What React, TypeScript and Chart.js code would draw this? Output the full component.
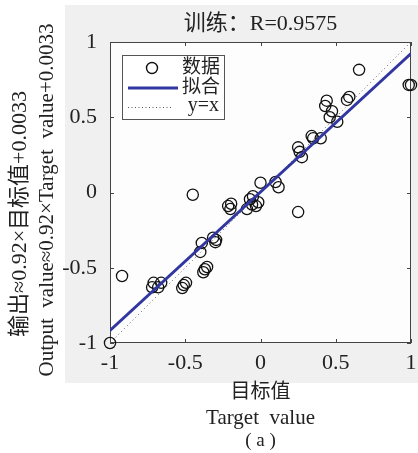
import React, { useEffect, useRef } from "react";
import { Chart, registerables } from "chart.js";
Chart.register(...registerables);

const targetValues = [
  -1, -0.92, -0.72, -0.71, -0.68, -0.66, -0.52, -0.51, -0.495, -0.45,
  -0.4, -0.39, -0.38, -0.37, -0.355, -0.315, -0.3, -0.295, -0.215, -0.2,
  -0.195, -0.09, -0.07, -0.056, -0.05, -0.03, -0.015, 0.0, 0.1, 0.12,
  0.25, 0.25, 0.26, 0.275, 0.34, 0.35, 0.4, 0.44, 0.43, 0.475,
  0.46, 0.51, 0.575, 0.59, 0.655, 0.985, 1.0,
];
const outputValues = [
  -1, -0.555, -0.63, -0.6, -0.63, -0.6, -0.635, -0.615, -0.6, -0.015,
  -0.395, -0.335, -0.53, -0.51, -0.495, -0.3, -0.33, -0.315, -0.09, -0.11,
  -0.075, -0.11, -0.045, -0.08, -0.025, -0.09, -0.065, 0.065, 0.07, 0.035,
  -0.13, 0.3, 0.27, 0.235, 0.375, 0.36, 0.36, 0.61, 0.575, 0.54,
  0.5, 0.47, 0.615, 0.635, 0.815, 0.715, 0.715,
];
const fitX = [-1, 1];
const fitY = [-0.9167, 0.9233];
const identityX = [-1, 1];
const identityY = [-1, 1];
const tickValues = [-1, -0.5, 0, 0.5, 1];
const tickLabels = ["-1", "-0.5", "0", "0.5", "1"];
const legendLabels = ["数据", "拟合", "y=x"];
const titleText = "训练：R=0.9575";
const yTitle1 = "输出≈0.92×目标值+0.0033";
const yTitle2 = "Output  value≈0.92×Target  value+0.0033";
const xTitle1 = "目标值";
const xTitle2 = "Target  value";
const captionText = "( a )";

const FONT = '"Liberation Serif", "Noto Sans CJK SC", serif';
const FIT_COLOR = "#3136a0";

const labelFor = (v: number) => {
  const i = tickValues.findIndex((t) => Math.abs(t - v) < 1e-9);
  return i >= 0 ? tickLabels[i] : "";
};

const decorPlugin = {
  id: "decor",
  beforeDraw(chart: any) {
    const { ctx, chartArea } = chart;
    ctx.save();
    ctx.fillStyle = "#ffffff";
    ctx.fillRect(0, 0, chart.width, chart.height);
    ctx.fillStyle = "#f0f0f0";
    ctx.fillRect(65, 5, chart.width - 65, 378);
    ctx.fillStyle = "#fdfdfd";
    ctx.fillRect(chartArea.left, chartArea.top, chartArea.right - chartArea.left, chartArea.bottom - chartArea.top);
    ctx.restore();
  },
  beforeDatasetsDraw(chart: any) {
    const { ctx, chartArea } = chart;
    const xs = chart.scales.x;
    const ys = chart.scales.y;
    ctx.save();
    ctx.strokeStyle = "#444444";
    ctx.lineWidth = 1;
    ctx.strokeRect(chartArea.left + 0.5, chartArea.top + 0.5, chartArea.right - chartArea.left - 1, chartArea.bottom - chartArea.top - 1);
    const tl = 4;
    ctx.beginPath();
    tickValues.forEach((v) => {
      const px = Math.round(xs.getPixelForValue(v)) + 0.5;
      ctx.moveTo(px, chartArea.bottom);
      ctx.lineTo(px, chartArea.bottom - tl);
      ctx.moveTo(px, chartArea.top);
      ctx.lineTo(px, chartArea.top + tl);
      const py = Math.round(ys.getPixelForValue(v)) + 0.5;
      ctx.moveTo(chartArea.left, py);
      ctx.lineTo(chartArea.left + tl, py);
      ctx.moveTo(chartArea.right, py);
      ctx.lineTo(chartArea.right - tl, py);
    });
    ctx.stroke();
    ctx.restore();
  },
  afterDraw(chart: any) {
    const { ctx, chartArea } = chart;
    ctx.save();
    ctx.fillStyle = "#222222";
    ctx.textAlign = "center";
    ctx.textBaseline = "middle";
    const cx = (chartArea.left + chartArea.right) / 2;
    ctx.font = `22px ${FONT}`;
    ctx.fillText(titleText, cx, 24);
    ctx.font = `20px ${FONT}`;
    ctx.fillText(xTitle1, cx, 393);
    ctx.font = `21px ${FONT}`;
    ctx.fillText(xTitle2, cx, 418);
    ctx.font = `19px ${FONT}`;
    ctx.fillText(captionText, cx, 441);

    ctx.save();
    ctx.translate(20, 214);
    ctx.rotate(-Math.PI / 2);
    ctx.font = `22px ${FONT}`;
    ctx.fillText(yTitle1, 0, 0);
    ctx.restore();
    ctx.save();
    ctx.translate(47, 200);
    ctx.rotate(-Math.PI / 2);
    ctx.font = `21px ${FONT}`;
    ctx.fillText(yTitle2, 0, 0);
    ctx.restore();

    // legend
    const lx = 122, ly = 55, lw = 102, lh = 64;
    ctx.fillStyle = "#ffffff";
    ctx.fillRect(lx, ly, lw, lh);
    ctx.strokeStyle = "#555555";
    ctx.lineWidth = 1;
    ctx.strokeRect(lx + 0.5, ly + 0.5, lw, lh);
    ctx.strokeStyle = "#111111";
    ctx.lineWidth = 1.4;
    ctx.beginPath();
    ctx.arc(152, 68, 5.5, 0, Math.PI * 2);
    ctx.stroke();
    ctx.strokeStyle = FIT_COLOR;
    ctx.lineWidth = 3;
    ctx.beginPath();
    ctx.moveTo(128, 88);
    ctx.lineTo(178, 88);
    ctx.stroke();
    ctx.strokeStyle = "#555555";
    ctx.lineWidth = 1;
    ctx.setLineDash([1, 2.5]);
    ctx.beginPath();
    ctx.moveTo(128, 107.5);
    ctx.lineTo(172, 107.5);
    ctx.stroke();
    ctx.setLineDash([]);
    ctx.fillStyle = "#222222";
    ctx.textAlign = "right";
    ctx.font = `19px ${FONT}`;
    ctx.fillText(legendLabels[0], 220, 68);
    ctx.fillText(legendLabels[1], 220, 88);
    ctx.font = `20px ${FONT}`;
    ctx.fillText(legendLabels[2], 219, 106);
    ctx.restore();
  },
};

export default function App() {
  const ref = useRef<HTMLCanvasElement | null>(null);
  useEffect(() => {
    if (!ref.current) return;
    const chart = new Chart(ref.current, {
      type: "scatter",
      data: {
        datasets: [
          {
            label: legendLabels[1],
            type: "line",
            data: fitX.map((x, i) => ({ x, y: fitY[i] })),
            borderColor: FIT_COLOR,
            borderWidth: 3,
            pointRadius: 0,
            fill: false,
            order: 0,
          } as any,
          {
            label: legendLabels[2],
            type: "line",
            data: identityX.map((x, i) => ({ x, y: identityY[i] })),
            borderColor: "#666666",
            borderWidth: 1,
            borderDash: [1, 3],
            pointRadius: 0,
            fill: false,
            order: 1,
          } as any,
          {
            label: legendLabels[0],
            data: targetValues.map((x, i) => ({ x, y: outputValues[i] })),
            pointRadius: 5.6,
            pointBorderWidth: 1.3,
            pointBorderColor: "#111111",
            pointBackgroundColor: "rgba(0,0,0,0)",
            borderColor: "#111111",
            backgroundColor: "rgba(0,0,0,0)",
            clip: false,
            order: 2,
          } as any,
        ],
      },
      options: {
        animation: false,
        responsive: false,
        layout: { padding: { left: 0, top: 42, right: 7, bottom: 0 } },
        plugins: {
          legend: { display: false },
          tooltip: { enabled: false },
          title: { display: false },
        },
        scales: {
          x: {
            type: "linear",
            min: -1,
            max: 1,
            grid: { display: false, drawTicks: false },
            border: { display: false },
            afterBuildTicks: (s: any) => {
              s.ticks = tickValues.map((v) => ({ value: v }));
            },
            afterFit: (s: any) => {
              s.height = 110;
              s.paddingLeft = 0;
              s.paddingRight = 0;
            },
            ticks: {
              padding: 7,
              maxRotation: 0,
              color: "#222222",
              font: { family: FONT, size: 22 },
              callback: (v: any) => labelFor(Number(v)),
            },
          },
          y: {
            type: "linear",
            min: -1,
            max: 1,
            grid: { display: false, drawTicks: false },
            border: { display: false },
            afterBuildTicks: (s: any) => {
              s.ticks = tickValues.map((v) => ({ value: v }));
            },
            afterFit: (s: any) => {
              s.width = 110;
              s.paddingTop = 0;
              s.paddingBottom = 0;
            },
            ticks: {
              padding: 13,
              color: "#222222",
              font: { family: FONT, size: 22 },
              callback: (v: any) => labelFor(Number(v)),
            },
          },
        },
      },
      plugins: [decorPlugin],
    });
    return () => chart.destroy();
  }, []);
  return (
    <div style={{ position: "absolute", left: 0, top: 0, width: 418, height: 453 }}>
      <canvas ref={ref} width={418} height={453} />
    </div>
  );
}
